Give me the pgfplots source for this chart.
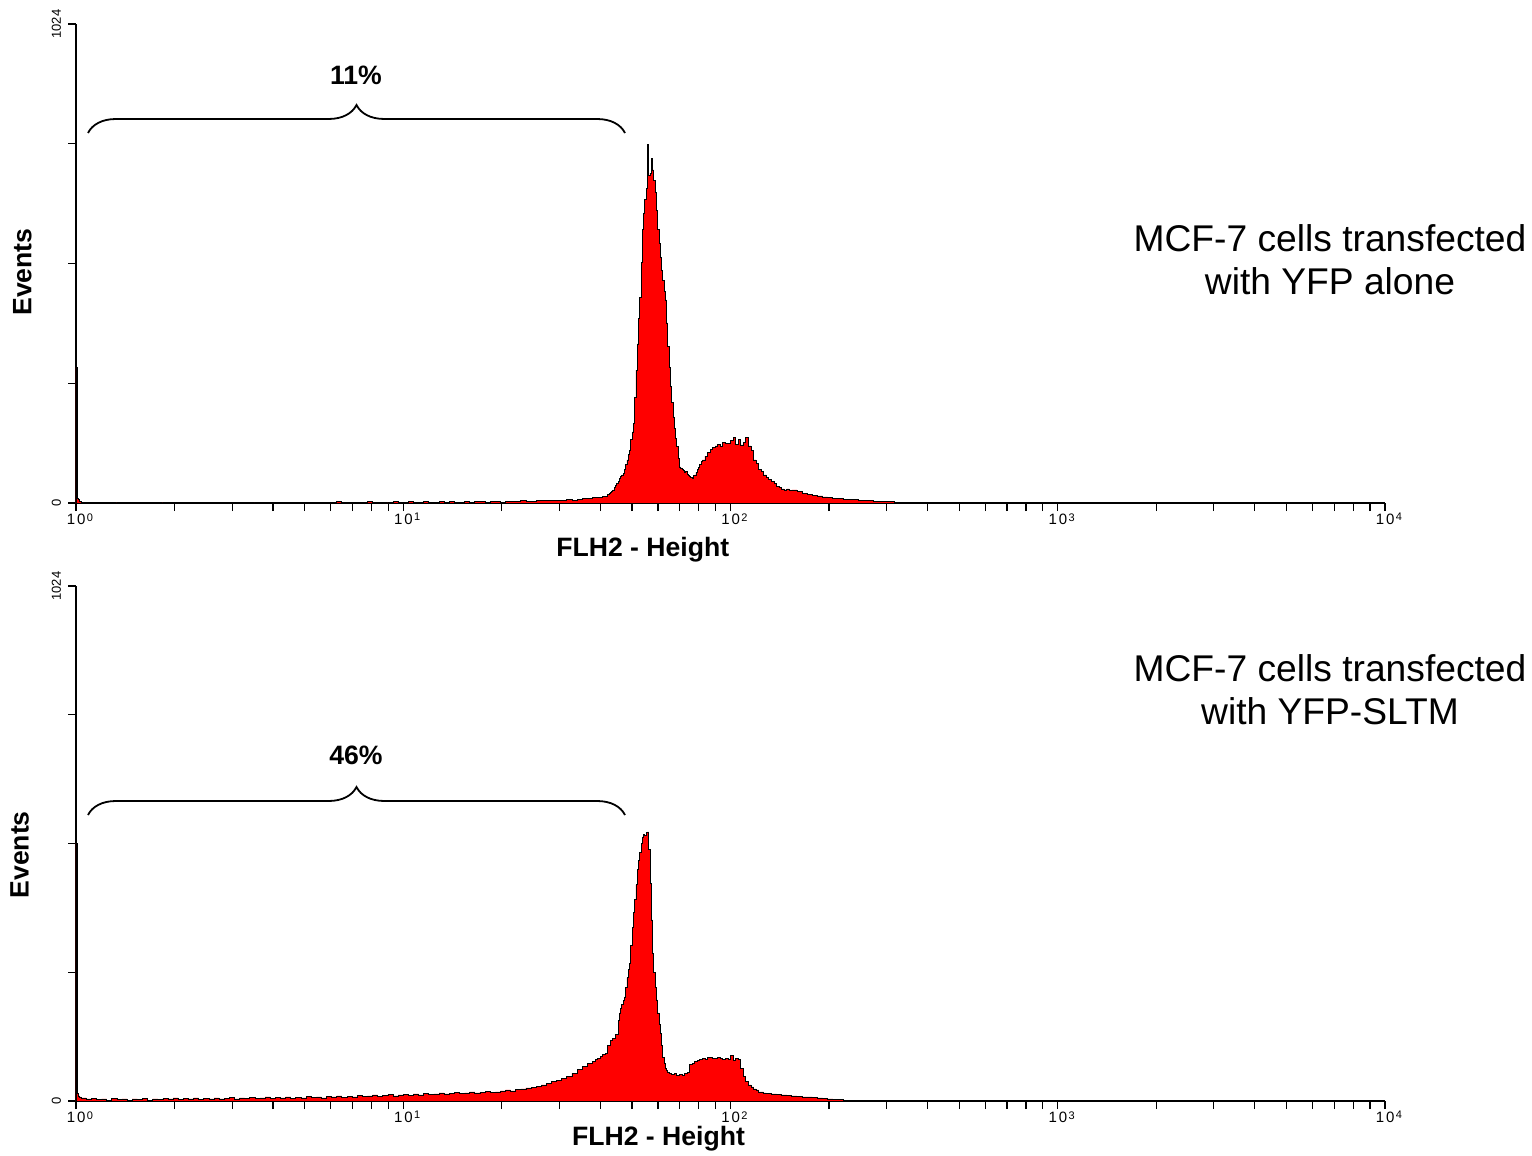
\documentclass[border=0pt]{standalone}
\usepackage{fontspec}
\setmainfont{Liberation Sans}
\usepackage{pgfplots}
\pgfplotsset{compat=1.18}
\usetikzlibrary{decorations.pathreplacing}

\pgfplotstableread{
ch n
0 290
1 10
2 8
3 4
4 2
8 1
12 0
16 1
20 0
24 1
28 0
32 2
36 0
40 1
44 0
48 1
52 2
56 0
60 1
64 0
68 2
72 1
76 2
80 1
84 0
88 2
92 1
96 0
100 1
104 2
108 0
112 1
116 2
120 1
124 0
128 1
132 2
136 0
140 1
144 0
148 1
152 2
156 0
160 2
164 1
168 2
172 1
176 0
180 2
184 1
188 2
192 0
196 1
200 2
204 3
208 1
212 2
216 0
220 2
224 1
228 3
232 1
236 2
240 0
244 2
248 3
252 1
256 2
260 3
264 1
268 2
272 3
276 2
280 1
284 3
288 2
292 3
296 2
300 1
304 3
308 2
312 3
316 4
320 2
324 3
328 4
332 2
336 3
340 4
344 3
348 5
352 4
356 3
360 5
364 6
368 5
372 6
376 5
380 6
384 7
388 6
392 8
396 9
400 10
404 11
408 12
412 14
416 18
417 20
418 22
419 25
420 28
421 33
422 38
423 42
424 47
425 52
426 56
427 60
428 64
429 72
430 82
431 92
432 104
433 113
434 135
435 152
436 171
437 225
438 284
439 340
440 395
441 440
442 515
443 584
444 620
445 648
446 672
447 767
448 700
449 705
450 737
451 712
452 690
453 663
454 625
455 584
456 555
457 525
458 498
459 475
460 452
461 434
462 385
463 334
464 290
465 250
466 215
467 184
468 160
469 138
470 120
471 95
472 77
473 75
474 72
475 70
476 66
477 68
478 62
479 58
480 56
481 54
482 53
483 58
484 60
485 66
486 72
487 76
488 82
489 88
490 92
492 100
494 109
496 114
498 118
500 122
502 125
504 120
506 130
508 127
510 128
512 133
514 141
516 126
518 135
520 124
522 130
524 141
526 122
528 113
530 92
532 85
534 72
536 68
538 60
540 55
542 50
544 47
546 42
548 36
550 33
552 30
554 28
556 30
558 26
560 28
564 24
568 20
572 18
576 16
580 15
584 13
588 12
592 10
596 9
600 8
604 7
608 7
612 6
616 5
620 5
624 4
628 4
632 3
636 3
640 2
644 2
648 2
652 1
656 2
660 1
664 1
668 1
672 1
676 0
}\toptable

\pgfplotstableread{
ch n
0 513
1 15
2 10
3 8
4 6
8 4
12 5
16 3
20 4
24 2
28 5
32 3
36 4
40 2
44 4
48 3
52 5
56 2
60 4
64 3
68 5
72 4
76 6
80 3
84 5
88 4
92 6
96 3
100 5
104 4
108 6
112 4
116 5
120 7
124 4
128 6
132 5
136 7
140 5
144 6
148 8
152 5
156 7
160 6
164 8
168 5
172 7
176 6
180 9
184 7
188 8
192 6
196 9
200 8
204 10
208 7
212 9
216 8
220 11
224 9
228 10
232 12
236 9
240 11
244 13
248 10
252 12
256 13
260 11
264 14
268 12
272 15
276 13
280 14
284 16
288 14
292 15
296 17
300 15
304 16
308 18
312 16
316 17
320 19
324 17
328 18
332 20
336 22
340 20
344 23
348 24
352 26
356 27
360 29
364 32
368 35
372 38
376 40
380 44
384 48
388 55
392 62
396 68
400 74
404 78
406 82
408 85
410 88
412 92
414 95
416 110
418 121
420 125
422 132
424 160
425 175
426 185
427 192
428 200
429 207
430 225
431 245
432 262
433 274
434 310
435 345
436 375
437 400
438 430
439 460
440 479
441 495
442 512
443 525
444 530
445 528
446 534
447 535
448 500
449 433
450 360
451 294
452 255
453 225
454 201
455 175
456 152
457 135
458 110
459 87
460 75
461 65
462 60
463 56
464 55
466 52
468 54
470 50
472 52
474 50
476 54
478 56
480 72
482 74
484 78
486 80
488 82
490 85
492 83
494 86
496 87
498 85
500 84
502 86
504 84
506 83
508 84
510 82
512 91
514 80
516 84
518 82
520 65
522 48
524 38
526 32
528 28
530 24
532 22
534 18
536 18
538 16
540 15
544 14
548 13
552 12
556 11
560 10
564 9
568 8
572 8
576 7
580 6
584 5
588 4
592 3
596 3
600 2
604 1
608 0
}\bottomtable

\newcommand{\dec}[1]{1\kern0.12em0\kern0.1em\raisebox{0.45ex}{\fontsize{5.5}{6}\selectfont #1}}

\pgfplotsset{facs/.style={
  scale only axis, width=654.5pt,
  xmin=0, xmax=1024, ymin=0, ymax=1024,
  axis x line*=bottom, axis y line*=left,
  axis line style={-, line width=0.7pt, black},
  tick align=outside, major tick length=4pt, minor tick length=4pt,
  every tick/.style={black, line width=0.6pt},
  xtick={0,256,512,768,1024},
  xticklabels={\dec{0},\dec{1},\dec{2},\dec{3},\dec{4}},
  minor xtick={77.06,122.14,154.13,178.94,199.21,216.35,231.19,244.29,
    333.06,378.14,410.13,434.94,455.21,472.35,487.19,500.29,
    589.06,634.14,666.13,690.94,711.21,728.35,743.19,756.29,
    845.06,890.14,922.13,946.94,967.21,984.35,999.19,1012.29},
  ytick={0,256,512,768,1024},
  yticklabels={0,,,,1024},
  yticklabel style={rotate=90, anchor=south, font=\fontsize{6.5}{7}\selectfont},
  xticklabel style={font=\fontsize{7.5}{8}\selectfont, inner sep=1pt, xshift=2pt},
  label style={font=\fontsize{13.3}{16}\selectfont\bfseries},
  anchor=south west, clip=false,
}}

\begin{document}
\begin{tikzpicture}
\path[use as bounding box] (0,0) rectangle (766pt,-578pt);

\begin{axis}[facs, height=239.5pt, at={(38pt,-251.5pt)},
  xlabel={FLH2 - Height}, ylabel={Events},
  xlabel style={at={(axis description cs:0.433,-0.098)}, anchor=center},
  ylabel style={at={(axis description cs:-0.041,0.482)}, anchor=center}]
\addplot[const plot, fill=red, draw=black, line width=0.4pt] table[x=ch,y=n] {\toptable} \closedcycle;
\end{axis}

\begin{axis}[facs, height=257.5pt, at={(38pt,-550.5pt)},
  xlabel={FLH2 - Height}, ylabel={Events},
  xlabel style={at={(axis description cs:0.445,-0.074)}, anchor=center},
  ylabel style={at={(axis description cs:-0.043,0.478)}, anchor=center}]
\addplot[const plot, fill=red, draw=black, line width=0.4pt] table[x=ch,y=n] {\bottomtable} \closedcycle;
\end{axis}

\draw[line width=0.9pt, decorate, decoration={brace, amplitude=14pt}] (44pt,-66.5pt) -- (312.5pt,-66.5pt);
\node[font=\fontsize{13.3}{16}\selectfont\bfseries] at (178pt,-37.5pt) {11\%};
\draw[line width=0.9pt, decorate, decoration={brace, amplitude=14pt}] (44pt,-407.5pt) -- (312.5pt,-407.5pt);
\node[font=\fontsize{13.3}{16}\selectfont\bfseries] at (178pt,-377.5pt) {46\%};

\node[align=center, font=\fontsize{18.6}{21.5}\selectfont] at (665pt,-130pt) {MCF-7 cells transfected\\with YFP alone};
\node[align=center, font=\fontsize{18.6}{21.5}\selectfont] at (665pt,-345pt) {MCF-7 cells transfected\\with YFP-SLTM};
\end{tikzpicture}
\end{document}
